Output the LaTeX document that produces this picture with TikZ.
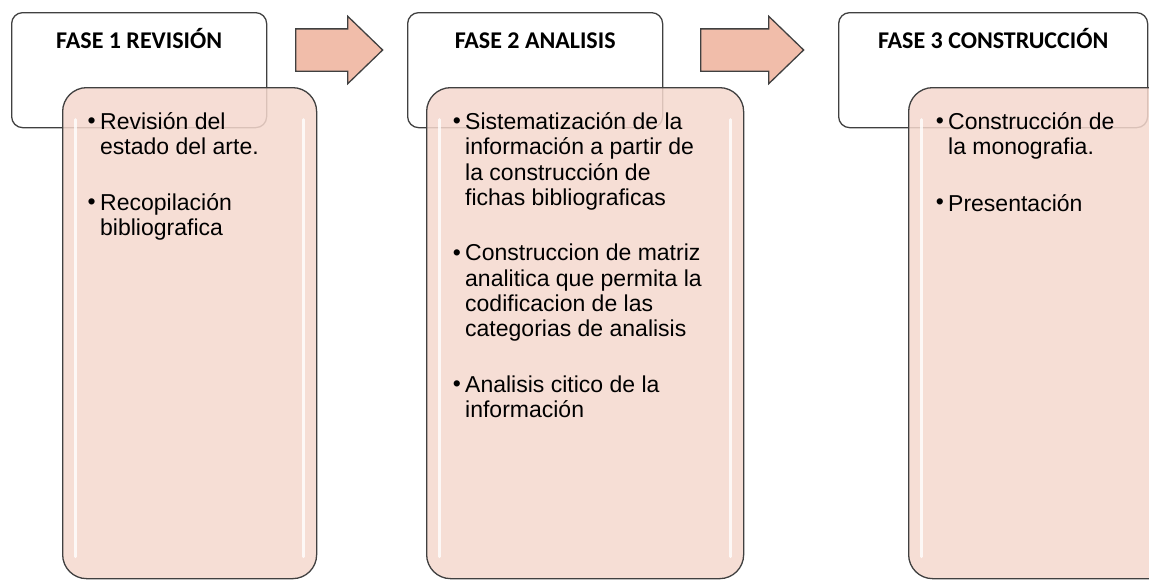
\documentclass[tikz,border=0pt]{standalone}
\usepackage{fontspec}
\setmainfont{Liberation Sans}
\newfontfamily\titlefont{Carlito}
\usetikzlibrary{positioning,shapes.arrows}

\definecolor{boxline}{RGB}{64,64,64}
\definecolor{fasefill}{RGB}{245,216,206}
\definecolor{arrowfill}{RGB}{241,189,170}

\begin{document}
\begin{tikzpicture}[x=1pt,y=-1pt,
	fasebox/.style={draw=boxline,line width=1.3pt,rounded corners=11pt,fill=white,
		minimum width=255pt,minimum height=115pt,anchor=north west,inner sep=0pt},
	fasetitle/.style={anchor=base,font=\titlefont\bfseries\fontsize{24}{28}\selectfont},
	listbox/.style={draw=boxline,line width=1.3pt,rounded corners=24pt,fill=fasefill,
		fill opacity=0.85,minimum height=491pt,anchor=north west,inner sep=0pt,
		path picture={
			\draw[white,line width=3pt,opacity=0.8,line cap=round]
				([xshift=13pt,yshift=-32pt]path picture bounding box.north west) --
				([xshift=13pt,yshift=22pt]path picture bounding box.south west);
			\draw[white,line width=3pt,opacity=0.8,line cap=round]
				([xshift=-13pt,yshift=-32pt]path picture bounding box.north east) --
				([xshift=-13pt,yshift=22pt]path picture bounding box.south east);
		}},
	phasearrow/.style={single arrow,draw=boxline,line width=1.3pt,fill=arrowfill,
		inner sep=0pt,text height=20.5pt,text depth=20.5pt,single arrow head extend=12.5pt,
		single arrow tip angle=88,anchor=tail},
	itemtext/.style={anchor=north west,align=left,inner sep=0pt,
		font=\fontsize{23}{25.3}\selectfont,
		execute at begin node=\strut,execute at end node=\strut},
	bulletdot/.style={anchor=base east,inner sep=0pt,font=\fontsize{23}{25}\selectfont}]

	\path[use as bounding box,clip] (0,0) rectangle (1149,581);

	% phase headers
	\node[fasebox] (f1) at (11,12) {};
	\node[fasebox] (f2) at (407,12) {};
	\node[fasebox,minimum width=309pt] (f3) at (838,12) {};

	% phase contents
	\node[listbox,minimum width=254pt] (c1) at (62,87) {};
	\node[listbox,minimum width=317pt] (c2) at (426,87) {};
	\node[listbox,minimum width=280pt] (c3) at (908,87) {};

	% arrows between phases
	\node[phasearrow,minimum height=87pt] (a1) at (295,50) {};
	\node[phasearrow,minimum height=103pt] (a2) at (700,50) {};

	% titles
	\node[fasetitle] (t1) at ([yshift=-36pt]f1.north) {FASE 1 REVISIÓN};
	\node[fasetitle] (t2) at ([yshift=-36pt]f2.north) {FASE 2 ANALISIS};
	\node[fasetitle] (t3) at ([yshift=-36pt]f3.north) {FASE 3 CONSTRUCCIÓN};

	% items
	\node[itemtext] (p11) at ([xshift=38pt,yshift=-25.3pt]c1.north west) {Revisión del\\estado del arte.};
	\node[itemtext,below=31pt of p11.south west,anchor=north west] (p12) {Recopilación\\bibliografica};

	\node[itemtext] (p21) at ([xshift=39pt,yshift=-25.3pt]c2.north west)
		{Sistematización  de la\\información a partir de\\la construcción de\\fichas bibliograficas};
	\node[itemtext,below=31pt of p21.south west,anchor=north west] (p22)
		{Construccion de matriz\\analitica que permita la\\codificacion de las\\categorias de analisis};
	\node[itemtext,below=31pt of p22.south west,anchor=north west] (p23)
		{Analisis citico de la\\información};

	\node[itemtext] (p31) at ([xshift=40pt,yshift=-25.3pt]c3.north west) {Construcción de\\la monografia.};
	\node[itemtext,below=31pt of p31.south west,anchor=north west] (p32) {Presentación};

	% bullets
	\foreach \p in {p11,p12,p21,p22,p23,p31,p32}
		\node[bulletdot] (d\p) at ([xshift=-4pt,yshift=-16pt]\p.north west) {•};
\end{tikzpicture}
\end{document}
